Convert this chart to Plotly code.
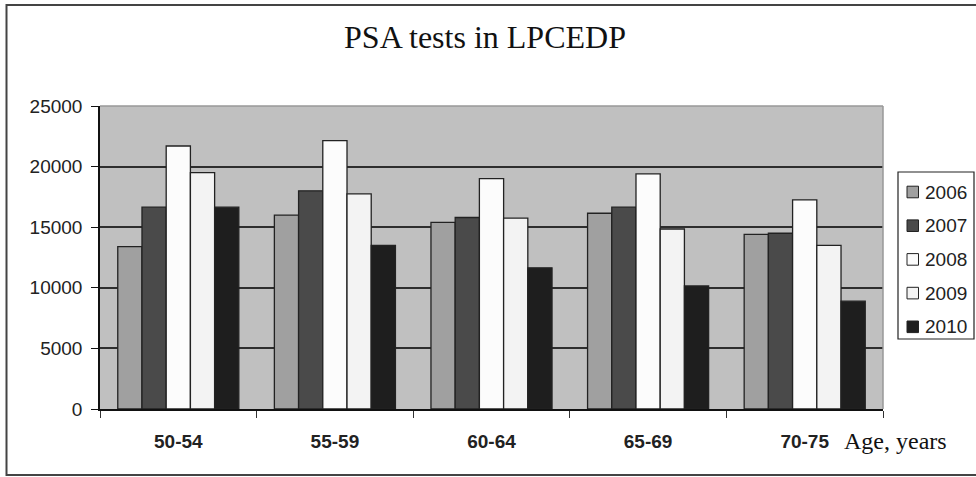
import plotly.graph_objects as go

# Age groups and screening years
age_groups = ["50-54", "55-59", "60-64", "65-69", "70-75"]
years = ["2006", "2007", "2008", "2009", "2010"]

# Number of PSA tests per age group, one list per year
tests_2006 = [13400, 16000, 15400, 16150, 14400]
tests_2007 = [16650, 18000, 15800, 16650, 14500]
tests_2008 = [21700, 22150, 19000, 19400, 17250]
tests_2009 = [19500, 17750, 15750, 14850, 13500]
tests_2010 = [16650, 13500, 11650, 10150, 8900]

series = [tests_2006, tests_2007, tests_2008, tests_2009, tests_2010]
fills = ["#a0a0a0", "#4a4a4a", "#fcfcfc", "#f3f3f3", "#1e1e1e"]

W, H = 976, 477
L, R, T, B = 100, 93, 106, 68
PW, PH = W - L - R, H - T - B


def px(x):
    return (x - L) / PW


def py(y):
    return (H - B - y) / PH


fig = go.Figure()
for name, vals, col in zip(years, series, fills):
    fig.add_trace(go.Bar(
        x=age_groups, y=vals, name=name,
        marker=dict(color=col, line=dict(color="#222222", width=1.3)),
        showlegend=False,
    ))

shapes = [
    # outer frame
    dict(type="rect", xref="paper", yref="paper",
         x0=px(6.5), x1=px(980), y0=py(475), y1=py(5),
         line=dict(color="#444444", width=2), fillcolor="rgba(0,0,0,0)"),
    # top and right border of plot area
    dict(type="line", xref="paper", yref="paper", x0=0, x1=1, y0=1, y1=1,
         line=dict(color="#999999", width=1.5)),
    dict(type="line", xref="paper", yref="paper", x0=1, x1=1, y0=0, y1=1,
         line=dict(color="#999999", width=1.5)),
    # legend box
    dict(type="rect", xref="paper", yref="paper",
         x0=px(898), x1=px(974), y0=py(339), y1=py(172),
         line=dict(color="#222222", width=1.2), fillcolor="white"),
]
annotations = []
for i, (name, col) in enumerate(zip(years, fills)):
    cy = 192 + i * 33.7
    shapes.append(dict(type="rect", xref="paper", yref="paper",
                       x0=px(907), x1=px(918.5), y0=py(cy + 5.8), y1=py(cy - 5.8),
                       line=dict(color="#222222", width=1), fillcolor=col))
    annotations.append(dict(text=name, xref="paper", yref="paper",
                            x=px(923), y=py(cy), xanchor="left", yanchor="middle",
                            showarrow=False,
                            font=dict(family="Liberation Sans", size=19, color="#222222")))

annotations.append(dict(text="Age, years", xref="paper", yref="paper",
                        x=px(842), y=py(441), xanchor="left", yanchor="middle",
                        showarrow=False,
                        font=dict(family="Liberation Serif", size=24, color="#111111")))

fig.update_layout(
    width=W, height=H,
    margin=dict(l=L, r=R, t=T, b=B, pad=0),
    paper_bgcolor="white",
    plot_bgcolor="#c0c0c0",
    barmode="group",
    bargap=0.227,
    bargroupgap=0,
    title=dict(text="PSA tests in LPCEDP", x=485 / W, xanchor="center",
               y=1 - 37 / H, yanchor="middle", yref="container",
               font=dict(family="Liberation Serif", size=32, color="#111111")),
    shapes=shapes,
    annotations=annotations,
    xaxis=dict(
        showline=True, linecolor="#111111", linewidth=1.5,
        ticks="outside", tickson="boundaries", ticklen=7, tickcolor="#333333",
        tickwidth=1.3, ticklabelstandoff=14,
        tickfont=dict(family="Liberation Sans", size=19, color="#222222", weight="bold"),
        showgrid=False,
    ),
    yaxis=dict(
        range=[0, 25000], tickvals=[0, 5000, 10000, 15000, 20000, 25000],
        tickformat="d",
        showline=True, linecolor="#111111", linewidth=1.5,
        ticks="outside", ticklen=7, tickcolor="#111111", tickwidth=1.3,
        ticklabelstandoff=5,
        showgrid=True, gridcolor="#2e2e2e", gridwidth=1.6,
        zeroline=False,
        tickfont=dict(family="Liberation Sans", size=19, color="#222222"),
    ),
)

fig.write_html("out.html")
